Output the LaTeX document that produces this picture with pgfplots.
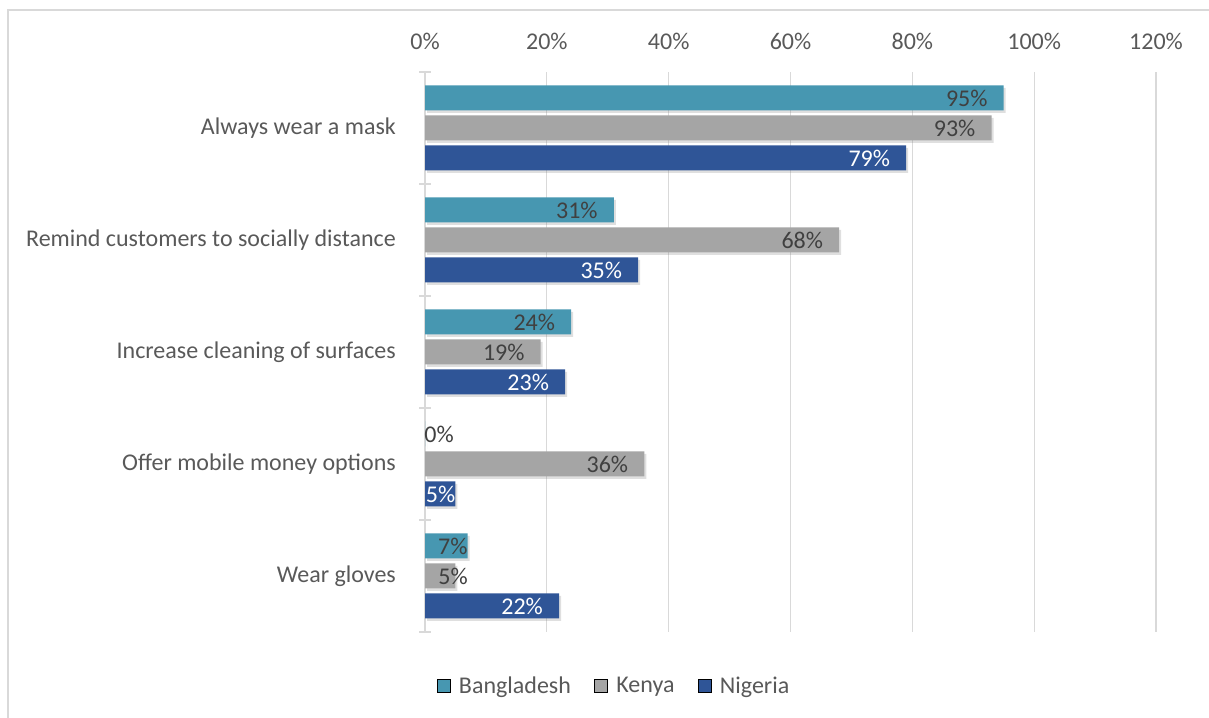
\documentclass[border=0pt]{standalone}
\usepackage{pgfplots}
\pgfplotsset{compat=1.18}
\usepackage{pgfplotstable}
\usepackage{fontspec}
\setmainfont{Carlito}
\usetikzlibrary{shadows}
\definecolor{bd}{HTML}{4797B1}
\definecolor{ke}{HTML}{A5A5A5}
\definecolor{ng}{HTML}{2F5597}
\definecolor{txt}{HTML}{595959}
\definecolor{lbl}{HTML}{404040}
\definecolor{grd}{HTML}{D9D9D9}

% y: 4 = Always wear a mask ... 0 = Wear gloves
\pgfplotstableread{
y x dx
4 95 -16
3 31 -16
2 24 -16
1 0 29
0 7 0
}\bdtable
\pgfplotstableread{
y x dx
4 93 -16
3 68 -16
2 19 -16
1 36 -16
0 5 12.5
}\ketable
\pgfplotstableread{
y x dx
4 79 -16
3 35 -16
2 23 -16
1 5 0
0 22 -16
}\ngtable

\newcommand{\f}{\fontsize{24}{28}\selectfont}

\begin{document}
\begin{tikzpicture}[x=1pt,y=1pt]
\path[use as bounding box] (0,0) rectangle (1209,717);
\draw[grd, line width=1.3pt] (8,-2) -- (8,707) -- (1212,707);
\begin{axis}[
  at={(425pt,85pt)}, anchor=south west, scale only axis,
  width=731pt, height=560pt,
  xbar, bar width=25pt,
  xmin=0, xmax=120, ymin=-0.5, ymax=4.5,
  axis x line*=top, axis y line*=left,
  x axis line style={draw=none},
  y axis line style={grd, line width=1.3pt},
  xtick={0,20,...,120},
  xticklabels={0\%,20\%,40\%,60\%,80\%,100\%,120\%},
  ytick={0,1,2,3,4},
  yticklabels={Wear gloves,Offer mobile money options,Increase cleaning of surfaces,Remind customers to socially distance,Always wear a mask},
  minor ytick={-0.5,0.5,1.5,2.5,3.5,4.5},
  major tick length=0pt, minor tick length=12pt, tick align=center,
  tick style={grd, line width=1.3pt},
  xmajorgrids, grid style={grd, line width=1.3pt},
  xticklabel style={font=\f, text=txt, anchor=base, inner sep=0pt, yshift=22pt},
  yticklabel style={font=\f, text=txt, anchor=east, inner sep=0pt, xshift=-29pt},
  /pgf/number format/assume math mode=true,
  point meta=x,
  nodes near coords={\pgfmathprintnumber[assume math mode=true]{\pgfplotspointmeta}\%},
  visualization depends on={\thisrow{dx} \as \dx},
  every node near coord/.append style={font=\f, anchor=east, inner sep=0pt, xshift=\dx*1pt},
  legend image code/.code={\fill[#1] (0pt,-6.5pt) rectangle (13pt,6.5pt);},
  legend style={at={(0.2585,-0.0964)}, anchor=center, draw=none, fill=none,
    legend columns=3, font=\f, text=txt,
    /tikz/every even column/.append style={column sep=21pt},
    /tikz/every odd column/.append style={column sep=7pt}},
]
\addplot[forget plot, fill=bd, draw=none, bar shift=30pt,
  drop shadow={shadow xshift=2pt, shadow yshift=-2.5pt, opacity=0.25},
  every node near coord/.append style={text=lbl}]
  table[x=x, y=y]{\bdtable};
\addplot[forget plot, fill=ke, draw=none, bar shift=0pt,
  drop shadow={shadow xshift=2pt, shadow yshift=-2.5pt, opacity=0.25},
  every node near coord/.append style={text=lbl}]
  table[x=x, y=y]{\ketable};
\addplot[forget plot, fill=ng, draw=none, bar shift=-30pt,
  drop shadow={shadow xshift=2pt, shadow yshift=-2.5pt, opacity=0.25},
  every node near coord/.append style={text=white}]
  table[x=x, y=y]{\ngtable};
\addlegendimage{fill=bd}
\addlegendentry{Bangladesh}
\addlegendimage{fill=ke}
\addlegendentry{Kenya}
\addlegendimage{fill=ng}
\addlegendentry{Nigeria}
\end{axis}
\end{tikzpicture}
\end{document}
